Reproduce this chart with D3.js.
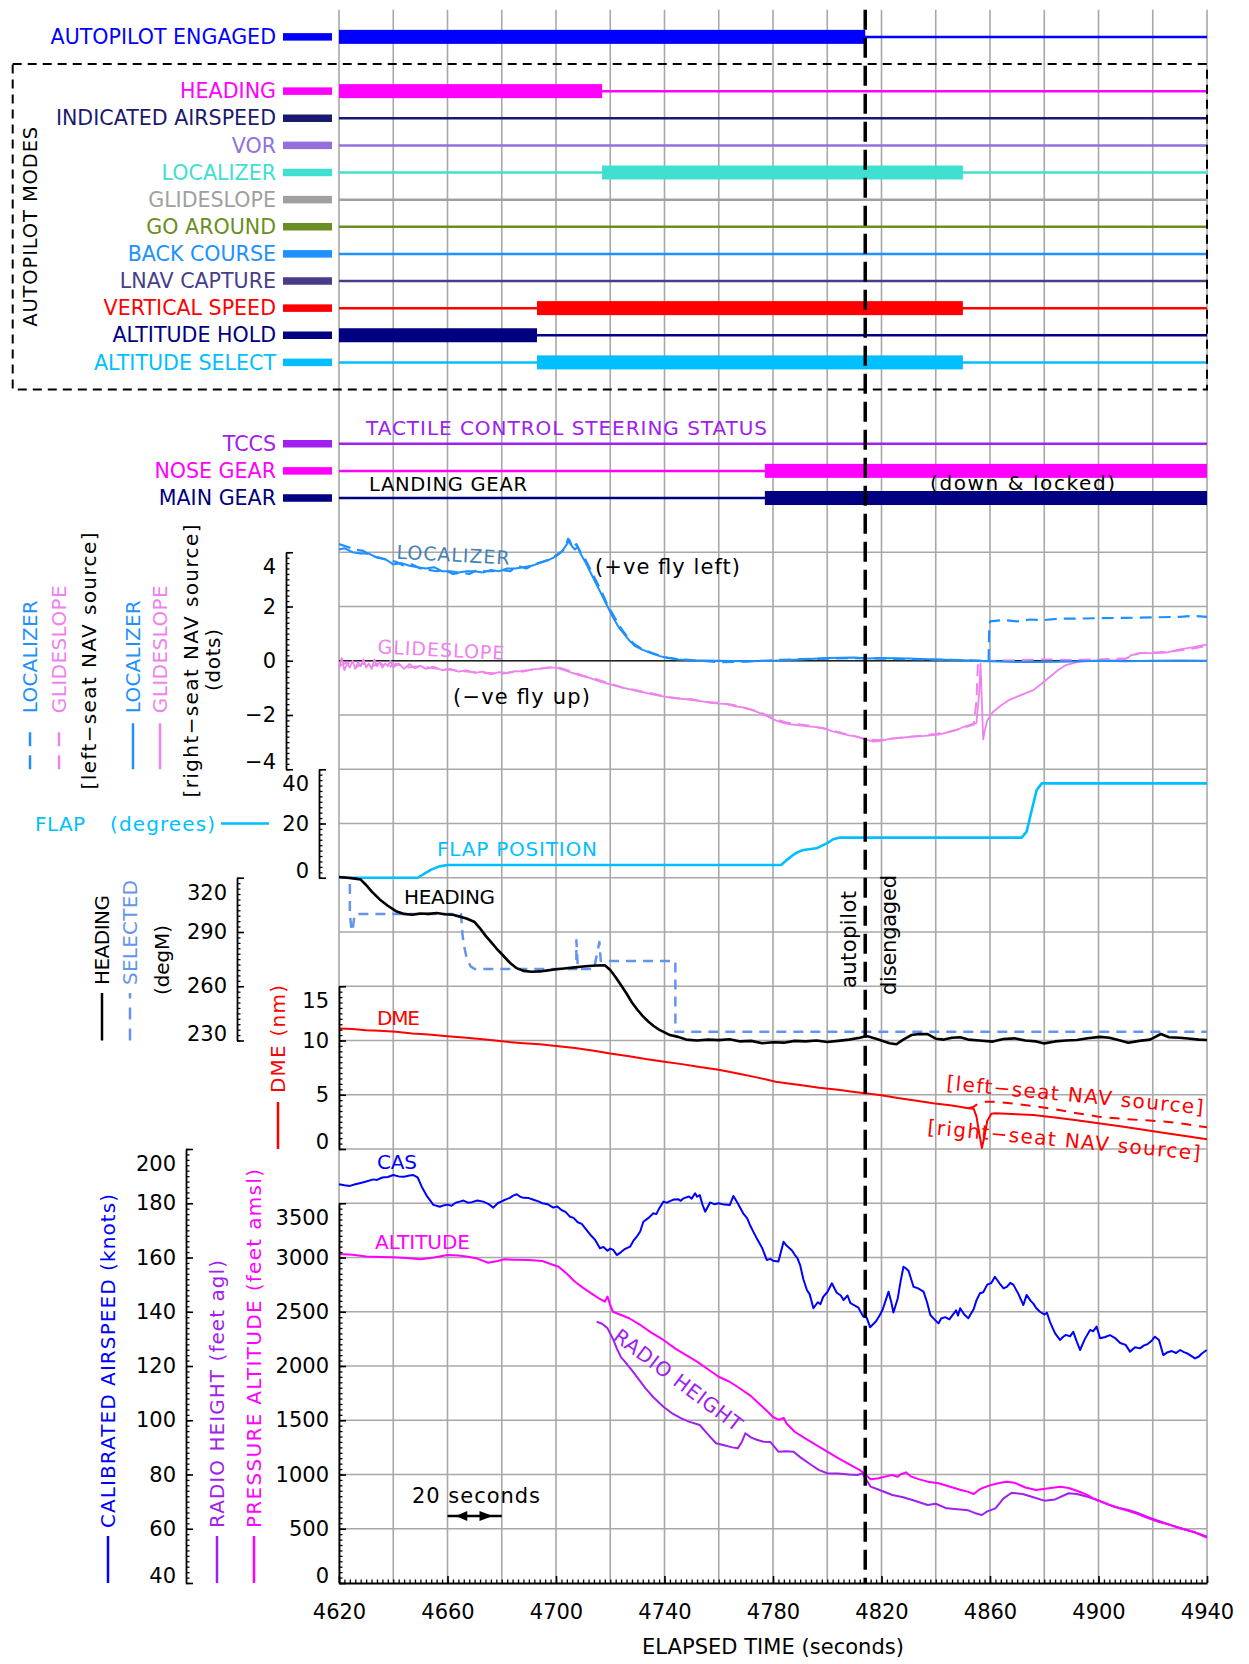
<!DOCTYPE html>
<html>
<head>
<meta charset="utf-8">
<script src="https://cdn.jsdelivr.net/npm/d3@7"></script>
<style>
  body { margin: 0; background: #fff; }
  svg { display: block; }
  text { font-family: "DejaVu Sans", sans-serif; }
</style>
</head>
<body>
<svg id="chart" width="1249" height="1664"></svg>
<script>
// ---- data (time in seconds) ----
const timeTicks = [4620, 4660, 4700, 4740, 4780, 4820, 4860, 4900, 4940];
const apDisengageTime = 4814;

const modeNames = ["HEADING", "INDICATED AIRSPEED", "VOR", "LOCALIZER", "GLIDESLOPE",
  "GO AROUND", "BACK COURSE", "LNAV CAPTURE", "VERTICAL SPEED", "ALTITUDE HOLD", "ALTITUDE SELECT"];
const apEngagedOn = [[4620, 4814]];
const headingModeOn = [[4620, 4717]];
const localizerModeOn = [[4717, 4850]];
const verticalSpeedOn = [[4693, 4850]];
const altitudeHoldOn = [[4620, 4693]];
const altitudeSelectOn = [[4693, 4850]];
const noseGearDown = [[4777, 4940]];
const mainGearDown = [[4777, 4940]];

// localizer / glideslope deviation (dots)
const locRight = [[4620,4.1],[4622,4.15],[4625,4.0],[4628,3.95],[4631,3.95],[4634,3.8],[4637,3.75],[4640,3.55],[4643,3.6],[4646,3.5],[4649,3.45],[4652,3.4],[4655,3.45],[4658,3.3],[4661,3.3],[4664,3.25],[4667,3.3],[4670,3.3],[4673,3.25],[4676,3.35],[4679,3.3],[4682,3.4],[4685,3.4],[4688,3.45],[4691,3.5],[4694,3.6],[4697,3.7],[4700,3.85],[4702,4.0],[4704,4.3],[4705,4.45],[4706,4.2],[4707,4.1],[4708,4.2],[4709,3.95],[4711,3.6],[4713,3.2],[4715,2.8],[4717,2.4],[4719,2.0],[4721,1.6],[4723,1.25],[4725,1.0],[4727,0.75],[4729,0.55],[4732,0.4],[4735,0.28],[4738,0.18],[4741,0.1],[4745,0.05],[4750,0.02],[4760,0.0],[4770,-0.02],[4780,0.0],[4790,0.05],[4800,0.1],[4810,0.12],[4815,0.08],[4820,0.1],[4830,0.08],[4840,0.05],[4850,0.02],[4856,0.0],[4860,-0.02],[4870,-0.05],[4880,-0.05],[4890,-0.03],[4900,0.0],[4910,-0.02],[4920,0.0],[4930,0.01],[4940,0.0]];
const locLeft = [[4620,4.3],[4623,4.2],[4626,4.1],[4629,4.05],[4632,3.85],[4635,3.8],[4638,3.7],[4641,3.65],[4644,3.5],[4647,3.55],[4650,3.4],[4653,3.35],[4656,3.3],[4659,3.35],[4662,3.2],[4665,3.25],[4668,3.2],[4671,3.35],[4674,3.3],[4677,3.3],[4680,3.35],[4683,3.3],[4686,3.5],[4689,3.4],[4692,3.55],[4695,3.65],[4698,3.75],[4701,3.95],[4703,4.1],[4704.5,4.5],[4706,4.15],[4707.5,4.3],[4709,4.0],[4711,3.7],[4713,3.3],[4715,2.9],[4717,2.5],[4719,2.05],[4721,1.7],[4723,1.35],[4725,1.05],[4727,0.8],[4729,0.6],[4732,0.42],[4735,0.3],[4738,0.2],[4741,0.12],[4745,0.06],[4750,0.02],[4760,-0.05],[4770,-0.03],[4780,0.02],[4790,0.06],[4800,0.08],[4810,0.1],[4820,0.08],[4830,0.06],[4840,0.04],[4850,0.02],[4857,0.0],[4859.5,0.0],[4859.7,1.2],[4860,1.45],[4865,1.5],[4870,1.45],[4875,1.52],[4880,1.5],[4885,1.55],[4890,1.55],[4900,1.57],[4910,1.58],[4920,1.6],[4930,1.62],[4935,1.65],[4940,1.62]];
const gsRight = [[4620,-0.3],[4621,0.1],[4622,-0.35],[4623,-0.1],[4624,-0.25],[4625,0.0],[4626,-0.3],[4627,-0.05],[4628,-0.2],[4629,0.05],[4630,-0.25],[4631,-0.1],[4632,-0.3],[4633,0.05],[4634,-0.2],[4635,-0.05],[4636,-0.25],[4637,-0.1],[4638,-0.2],[4639,0.0],[4640,-0.25],[4642,-0.1],[4644,-0.3],[4646,-0.12],[4648,-0.28],[4650,-0.18],[4652,-0.3],[4655,-0.22],[4658,-0.35],[4661,-0.3],[4664,-0.4],[4667,-0.35],[4670,-0.45],[4673,-0.4],[4676,-0.5],[4679,-0.42],[4682,-0.45],[4685,-0.38],[4688,-0.4],[4691,-0.32],[4694,-0.3],[4697,-0.25],[4700,-0.25],[4703,-0.35],[4706,-0.45],[4709,-0.55],[4712,-0.62],[4715,-0.72],[4718,-0.82],[4721,-0.9],[4724,-0.98],[4727,-1.05],[4730,-1.12],[4733,-1.18],[4736,-1.25],[4739,-1.3],[4742,-1.36],[4745,-1.4],[4748,-1.42],[4751,-1.46],[4754,-1.5],[4757,-1.55],[4760,-1.58],[4763,-1.6],[4766,-1.68],[4769,-1.72],[4772,-1.8],[4775,-1.92],[4778,-2.05],[4781,-2.2],[4784,-2.3],[4787,-2.35],[4790,-2.38],[4793,-2.42],[4796,-2.45],[4799,-2.5],[4802,-2.6],[4805,-2.68],[4808,-2.75],[4811,-2.8],[4814,-2.9],[4817,-2.98],[4820,-2.95],[4823,-2.88],[4826,-2.85],[4829,-2.82],[4832,-2.8],[4835,-2.78],[4838,-2.75],[4841,-2.72],[4844,-2.65],[4847,-2.58],[4850,-2.45],[4853,-2.35],[4855,-2.3],[4856,-1.2],[4856.5,-0.1],[4857,-1.5],[4857.5,-2.9],[4858,-2.6],[4859,-2.2],[4861,-1.9],[4864,-1.65],[4867,-1.45],[4870,-1.32],[4873,-1.2],[4876,-1.08],[4879,-0.85],[4882,-0.6],[4885,-0.35],[4888,-0.16],[4891,-0.08],[4894,-0.02],[4898,0.0],[4902,0.0],[4906,0.02],[4910,0.05],[4912,0.2],[4915,0.28],[4920,0.28],[4925,0.3],[4930,0.42],[4935,0.5],[4940,0.6]];
const gsLeft = [[4620,-0.2],[4623,-0.05],[4626,-0.25],[4629,-0.1],[4632,-0.22],[4635,-0.08],[4638,-0.25],[4641,-0.12],[4645,-0.25],[4650,-0.2],[4655,-0.28],[4660,-0.32],[4665,-0.38],[4670,-0.42],[4675,-0.45],[4680,-0.48],[4685,-0.4],[4690,-0.35],[4695,-0.28],[4700,-0.22],[4705,-0.38],[4710,-0.55],[4715,-0.68],[4720,-0.85],[4725,-1.0],[4730,-1.1],[4735,-1.2],[4740,-1.32],[4745,-1.38],[4750,-1.42],[4755,-1.52],[4760,-1.55],[4765,-1.62],[4770,-1.75],[4775,-1.88],[4780,-2.12],[4785,-2.28],[4790,-2.35],[4795,-2.42],[4800,-2.52],[4805,-2.65],[4810,-2.78],[4815,-2.92],[4820,-2.92],[4825,-2.86],[4830,-2.8],[4835,-2.76],[4840,-2.7],[4845,-2.62],[4850,-2.48],[4854,-2.35],[4855,-1.5],[4855.5,-0.2],[4856,-0.05],[4860,0.0],[4870,0.02],[4880,0.05],[4890,0.03],[4900,0.05],[4910,0.08],[4915,0.28],[4925,0.32],[4935,0.45],[4940,0.55]];

// flap position (degrees)
const flapPos = [[4620,0],[4649,0],[4651.5,1.5],[4654,3],[4657,4.2],[4660,4.7],[4783,4.7],[4785,6.5],[4787.4,8.4],[4789.5,9.6],[4791.2,10.2],[4796,10.85],[4799.8,12.7],[4802.2,14.2],[4804.7,14.8],[4871.7,14.8],[4873.5,17],[4875.4,25],[4877.2,32.3],[4879.1,34.8],[4940,34.8]];

// heading and selected heading (degM)
const heading = [[4620,320.4],[4623,320],[4626,319.5],[4628,319],[4630,316],[4632,312.5],[4635,308],[4638,304.5],[4641,301.5],[4644,300],[4647,299.5],[4650,300.2],[4653,300],[4656,300.5],[4659,299.8],[4662,299.5],[4664.5,298.5],[4667,297.5],[4670,295.5],[4672,292],[4674,288],[4676,284.5],[4678,281],[4680.5,277],[4683,273],[4685.5,270],[4688,268.5],[4691,268],[4694,268.2],[4697,268.8],[4700,269.4],[4703,269.8],[4706,270.3],[4709,270.8],[4712,271.2],[4715,271.5],[4718,271.6],[4720,269],[4722,265],[4724,260.5],[4726,256],[4728,251],[4730,247],[4732,243.5],[4734,240.5],[4736,238],[4738,236],[4740,234.5],[4742,233],[4745,232],[4748,230.5],[4752,230],[4756,230.5],[4760,230.2],[4764,230.7],[4768,229.5],[4772,229.8],[4776,228.5],[4780,229],[4784,228.8],[4788,229.8],[4792,229.5],[4796,230],[4800,229.2],[4804,229.8],[4808,230.5],[4812,231.5],[4814.5,232.5],[4818,231],[4821,229.5],[4823,228.5],[4825.5,227.9],[4828,230.5],[4831,233],[4834,233.6],[4837,233.5],[4840,231],[4843,230.5],[4846,231.5],[4849,231.8],[4852,230.5],[4856,230],[4861,229.4],[4865,230.8],[4869,231.2],[4873,230],[4877,229.5],[4880,228.4],[4884,229.5],[4888,230],[4892,230.3],[4896,231.2],[4900.6,232],[4904,231.5],[4908,230],[4911,228.8],[4915,229.8],[4919,230.5],[4923,233.6],[4926,231.8],[4930,231.5],[4934,231],[4937,230.5],[4940,230.3]];
const selHeading = [[4620,320],[4624,320],[4624,300],[4624.5,293],[4625,290.5],[4625.5,297],[4626,300],[4665,300],[4665.5,289],[4666,283],[4667,276],[4668.5,271],[4670,269.5],[4707.5,269.5],[4707.5,285.5],[4708,272],[4708.5,269.5],[4714,269.5],[4715,277],[4716,284.5],[4716.5,274],[4744,274],[4744,234.9],[4940,234.9]];

// DME (nm)
const dmeRight = [[4620,11.1],[4625,11.05],[4630,10.95],[4635,10.9],[4641,10.8],[4647,10.65],[4653,10.55],[4660,10.4],[4667,10.25],[4674,10.1],[4681,9.9],[4688,9.75],[4694,9.65],[4700,9.5],[4707,9.3],[4714,9.05],[4720,8.8],[4727,8.55],[4733,8.3],[4740,8.05],[4747,7.8],[4753,7.55],[4760,7.3],[4767,6.95],[4774,6.6],[4781,6.2],[4787,6.0],[4790,5.9],[4797,5.65],[4804,5.45],[4810,5.25],[4814,5.13],[4820,4.95],[4826,4.7],[4833,4.45],[4839,4.21],[4846,4.0],[4852,3.75],[4854,3.7],[4855,3.0],[4856,1.5],[4857,0.1],[4858,1.2],[4859,2.6],[4860.5,3.25],[4862,3.3],[4868,3.22],[4876,3.13],[4884,2.9],[4892,2.65],[4900,2.37],[4908,2.1],[4916,1.8],[4925,1.45],[4932,1.2],[4940,0.89]];
const dmeLeft = [[4852,3.75],[4854,3.9],[4856,4.25],[4858,4.36],[4862,4.35],[4870,4.15],[4876,3.96],[4884,3.65],[4892,3.3],[4900,2.98],[4910,2.75],[4920,2.6],[4925,2.52],[4932,2.3],[4936,2.12],[4940,2.0]];

// calibrated airspeed (knots)
const cas = [[4620,187],[4622,186.6],[4624,186.4],[4626,187],[4628,187.5],[4630,188],[4632.7,188.8],[4634,188.6],[4636,189.5],[4638,189.7],[4640,190.4],[4642,189.9],[4644,189.8],[4646,190.2],[4647.4,190.4],[4649,189.5],[4650.5,186.1],[4652.5,182.5],[4654.8,179.4],[4657.2,178.7],[4658.5,179.2],[4660,179.5],[4661.5,179.1],[4663,180.2],[4664.5,180.6],[4665.9,181],[4667.5,180.2],[4669,180.4],[4671,181],[4673.2,180.6],[4675,179.8],[4676.9,178.4],[4678.5,180],[4680.6,181],[4682,181.6],[4683,182],[4684.2,182.8],[4685.5,183.3],[4686.8,182.4],[4688,182],[4690,181.9],[4691.7,181.3],[4693.5,180.7],[4695,180],[4697,179.6],[4699,178.4],[4700.5,178.8],[4702,177.5],[4703.5,176.8],[4705.2,175],[4706.5,174.6],[4708,173],[4709.5,172.4],[4711.3,170.1],[4713,168],[4714.5,166.4],[4716.2,163.4],[4717.5,163.9],[4719,162.5],[4720,163.3],[4721.1,162.8],[4722.4,160.9],[4724,162],[4725.5,163.2],[4727.3,164],[4728.5,166.1],[4730,168],[4731,169.5],[4732.2,173.2],[4734,174.5],[4735.9,176.3],[4737,176],[4738,178],[4739.6,180.6],[4741,180.2],[4742,180.8],[4743.5,181.4],[4745,181.5],[4746,180.9],[4747,181.8],[4749,182.5],[4750,181.7],[4751.3,183.7],[4752,182.4],[4753,183],[4754,179.5],[4755,176.9],[4756.8,180.3],[4758.5,179.6],[4760,180],[4762,179.5],[4764.1,179.4],[4765.4,182.7],[4767,180],[4769,176.3],[4770.5,174.4],[4771.5,172],[4773,169],[4774,167.1],[4776,163.5],[4777.7,159.1],[4779,159.5],[4780,158.8],[4782,158.5],[4783.9,165.8],[4785,164.4],[4786,163.5],[4787,162.6],[4788,161],[4789,159.8],[4790,157.2],[4791.2,152],[4792.5,148],[4793.5,146.5],[4794.9,141.3],[4796.5,143.5],[4797.5,142.8],[4798.5,145.5],[4800,147.2],[4801.7,150.5],[4803.5,147],[4805,146],[4806,144.3],[4807.5,146],[4808.5,143.3],[4809.7,142.5],[4811.5,141.5],[4813.3,138.2],[4814.5,137.9],[4815.8,134.3],[4817,135.5],[4818,136.5],[4819.5,139],[4820.5,141],[4822.6,147.4],[4823.5,144],[4824.4,139.7],[4826,145],[4827,151],[4828.1,156.6],[4829,156],[4830,155],[4831.8,149.2],[4833.5,148.6],[4835.5,147.4],[4836.8,143.5],[4838,138.8],[4839.5,137.2],[4841,135.7],[4842,137.5],[4843.5,138],[4845,137.2],[4846,138.5],[4847.5,140.5],[4848.2,138.6],[4849,141.3],[4850.5,139],[4852,137.6],[4854,141],[4855,144.2],[4856.3,146.8],[4857.5,147.2],[4859,150],[4860.5,150.6],[4861.8,152.9],[4863.5,150.5],[4865,148.6],[4866.2,149.2],[4867.5,150.6],[4868.6,150],[4870.5,146.5],[4872.3,142.5],[4873.5,146.2],[4875,144],[4876,143],[4877,141.4],[4878.4,140],[4880,139],[4881,139.6],[4882.1,136.3],[4884,132],[4885.8,129.6],[4887,130.8],[4888,131.5],[4889.5,130.9],[4890.7,132.6],[4892,129],[4893.2,125.9],[4895,130],[4896.9,133.3],[4898,132.8],[4899.3,134.5],[4900.6,130.2],[4902.5,130.7],[4904.2,131.4],[4906,130.4],[4908,128.5],[4910,127.8],[4911.6,125.3],[4913.5,126.9],[4915.3,126.5],[4916.8,127.6],[4918,128],[4919.5,129.2],[4920.8,130.8],[4922.3,129.6],[4923.9,124],[4925.5,125.1],[4927,125.5],[4928.6,124.8],[4930.1,125.9],[4931.5,125.1],[4933,124.5],[4935.6,122.8],[4937,123.5],[4938,124.5],[4939.9,125.9]];

// pressure altitude (feet amsl) and radio height (feet agl)
const altitude = [[4620,3032],[4625,3025],[4630,3010],[4635,3005],[4640,3002],[4645,2995],[4650,2983],[4655,3000],[4660,3023],[4664,3018],[4667,3009],[4671,2990],[4675,2952],[4678,2965],[4681,2983],[4685,2980],[4690,2977],[4695,2968],[4698,2940],[4701,2915],[4704,2850],[4707,2777],[4710,2720],[4713,2670],[4716,2620],[4718,2593],[4719,2640],[4720,2560],[4721,2500],[4724,2470],[4727,2440],[4731,2380],[4735,2310],[4739.6,2240],[4744,2160],[4748,2100],[4752,2040],[4756,1970],[4760,1901],[4764,1855],[4768,1790],[4772,1720],[4775,1650],[4778,1580],[4780,1530],[4782,1505],[4784,1520],[4785,1470],[4788,1394],[4792,1330],[4796,1270],[4800,1210],[4804,1150],[4808,1095],[4812,1041],[4814,1000],[4816,956],[4819,965],[4822,985],[4824,995],[4826,980],[4827,1000],[4829,1020],[4831,980],[4834,955],[4837,934],[4841,920],[4845,890],[4849,860],[4852,840],[4854,820],[4856,860],[4857,873],[4860,900],[4863,920],[4866,934],[4869,925],[4873,880],[4877,857],[4881,870],[4886,888],[4889,875],[4893,841],[4896,810],[4898,780],[4902,740],[4906,700],[4910,673],[4914,640],[4918,600],[4922,565],[4926,540],[4930,505],[4935,473],[4938,440],[4940,418]];
const radioHeight = [[4715,2408],[4717,2390],[4719,2347],[4721,2250],[4722.4,2163],[4724,2080],[4725.4,2040],[4728,1960],[4731,1860],[4733,1794],[4736,1710],[4739.6,1625],[4743,1560],[4746,1520],[4749,1487],[4753,1456],[4756,1370],[4759,1288],[4762,1270],[4765,1250],[4767,1241],[4768.5,1300],[4769.8,1380],[4772,1340],[4774,1320],[4776.5,1302],[4779,1300],[4782,1210],[4785,1215],[4787.6,1210],[4790,1160],[4794,1090],[4797,1040],[4800,1011],[4804,1010],[4808,1000],[4811,995],[4813,1010],[4816,888],[4820,850],[4824,811],[4828,790],[4832,760],[4837,719],[4840,730],[4844,688],[4848,680],[4852,670],[4855,640],[4857,627],[4859,660],[4862,688],[4865,780],[4868,832],[4872,820],[4876,790],[4880,759],[4884,770],[4889,827],[4892,820],[4896,795],[4900,760],[4904,720],[4908,690],[4911,673],[4915,640],[4919,600],[4923,565],[4927,530],[4931,500],[4935,470],[4938,445],[4940,427]];

// ---- layout ----
const svg = d3.select("#chart");
svg.append("rect").attr("width", 1249).attr("height", 1664).attr("fill", "#fff");

const x = d3.scaleLinear().domain([4620, 4940]).range([339, 1207]);
// the whole plot sits on one square grid, rows counted up from the time axis
const gridY = d3.scaleLinear().domain([0, 29]).range([1583, 9.75]);

const yLoc = d3.scaleLinear().domain([-4, 4]).range([gridY(15), gridY(19)]);
const yFlap = d3.scaleLinear().domain([0, 40]).range([gridY(13), gridY(15)]);
const yHdg = d3.scaleLinear().domain([230, 320]).range([gridY(10), gridY(13)]);
const yDme = d3.scaleLinear().domain([0, 15]).range([gridY(8), gridY(11)]);
const yCas = d3.scaleLinear().domain([40, 200]).range([gridY(0), gridY(8)]);
const yAlt = d3.scaleLinear().domain([0, 3500]).range([gridY(0), gridY(7)]);

const GRID = "#a8a8a8";

// grid
svg.append("g").selectAll("line").data(d3.range(4620, 4941, 20)).join("line")
  .attr("x1", d => x(d)).attr("x2", d => x(d))
  .attr("y1", gridY(29)).attr("y2", gridY(0))
  .attr("stroke", GRID).attr("stroke-width", 1.6);
svg.append("g").selectAll("line").data(d3.range(1, 20)).join("line")
  .attr("x1", x(4620)).attr("x2", x(4940))
  .attr("y1", d => gridY(d)).attr("y2", d => gridY(d))
  .attr("stroke", GRID).attr("stroke-width", 1.6);
svg.append("line").attr("x1", x(4620)).attr("x2", x(4940))
  .attr("y1", yLoc(0)).attr("y2", yLoc(0)).attr("stroke", "#222").attr("stroke-width", 1.5);

// ---- text helpers ----
function label(str, px, py, o = {}) {
  const t = svg.append("text").attr("x", px).attr("y", py).attr("dy", "0.35em")
    .attr("font-size", o.size || 20).attr("fill", o.color || "#000")
    .attr("text-anchor", o.anchor || "start").text(str);
  if (o.len) t.attr("textLength", o.len);
  if (o.rotate) t.attr("transform", `rotate(${o.rotate},${px},${py})`);
  return t;
}
// vertical legend: line (from the bottom) then text going upward
function vLegend(str, xc, yBottom, o) {
  const g = svg.append("g").attr("transform", `translate(${xc},${yBottom}) rotate(-90)`);
  g.append("line").attr("x1", 0).attr("x2", o.lineLen).attr("y1", 0).attr("y2", 0)
    .attr("stroke", o.color).attr("stroke-width", 2.5).attr("stroke-dasharray", o.dash || null);
  const t = g.append("text").attr("x", o.textStart).attr("y", 0).attr("dy", "0.35em")
    .attr("font-size", o.size || 20).attr("fill", o.color).text(str);
  if (o.len) t.attr("textLength", o.len);
}
function vText(str, xc, yc, o = {}) {
  const t = svg.append("text").attr("transform", `translate(${xc},${yc}) rotate(-90)`)
    .attr("dy", "0.35em").attr("text-anchor", o.anchor || "middle")
    .attr("font-size", o.size || 20).attr("fill", o.color || "#000").text(str);
  if (o.len) t.attr("textLength", o.len);
}

// ---- status rows ----
const rows = [];
rows.push({ name: "AUTOPILOT ENGAGED", k: 28.5, color: "#0000ff", on: apEngagedOn });
const modeColors = ["#ff00ff", "#191970", "#9370db", "#40e0d0", "#a0a0a0", "#6b8e23",
  "#1e90ff", "#483d8b", "#ff0000", "#000080", "#00bfff"];
const modeOn = { "HEADING": headingModeOn, "LOCALIZER": localizerModeOn,
  "VERTICAL SPEED": verticalSpeedOn, "ALTITUDE HOLD": altitudeHoldOn, "ALTITUDE SELECT": altitudeSelectOn };
modeNames.forEach((n, i) => rows.push({ name: n, k: 27.5 - 0.5 * i, color: modeColors[i], on: modeOn[n] || [] }));
rows.push({ name: "TCCS", k: 21, color: "#a020f0", on: [] });
rows.push({ name: "NOSE GEAR", k: 20.5, color: "#ff00ff", on: noseGearDown });
rows.push({ name: "MAIN GEAR", k: 20, color: "#000080", on: mainGearDown });

rows.forEach(r => {
  const yy = gridY(r.k);
  label(r.name, 276, yy, { color: r.color, anchor: "end", size: 20.6 });
  svg.append("rect").attr("x", 283).attr("y", yy - 3.75).attr("width", 49).attr("height", 7.5).attr("fill", r.color);
  svg.append("line").attr("x1", x(4620)).attr("x2", x(4940)).attr("y1", yy).attr("y2", yy)
    .attr("stroke", r.color).attr("stroke-width", 2.5);
  r.on.forEach(([a, b]) => {
    svg.append("rect").attr("x", x(a)).attr("y", yy - 7).attr("width", x(b) - x(a)).attr("height", 14).attr("fill", r.color);
  });
});

vText("AUTOPILOT MODES", 30, (gridY(28) + gridY(22)) / 2, { size: 19.5, len: 200 });
label("TACTILE CONTROL STEERING STATUS", 366, 428, { color: "#a020f0", size: 20, len: 401 });
label("LANDING GEAR", 369, 484, { size: 19.5, len: 158 });
label("(down & locked)", 930, 483, { size: 20, len: 185 });

// ---- series ----
function series(data, yScale, color, width, dash) {
  svg.append("path").datum(data)
    .attr("d", d3.line().x(d => x(d[0])).y(d => yScale(d[1])))
    .attr("fill", "none").attr("stroke", color).attr("stroke-width", width)
    .attr("stroke-linejoin", "round").attr("stroke-dasharray", dash || null);
}
series(gsLeft, yLoc, "#ee82ee", 2, "12,7");
series(gsRight, yLoc, "#ee82ee", 1.8);
series(locLeft, yLoc, "#1e90ff", 2.2, "12,7");
series(locRight, yLoc, "#1e90ff", 2);
series(flapPos, yFlap, "#00bfff", 2.6);
series(selHeading, yHdg, "#6495ed", 2.5, "10,7");
series(heading, yHdg, "#000", 2.6);
series(dmeLeft, yDme, "#ff0000", 2, "10,8");
series(dmeRight, yDme, "#ff0000", 2);
series(cas, yCas, "#0000ff", 2);
series(radioHeight, yAlt, "#a020f0", 2);
series(altitude, yAlt, "#ff00ff", 2);

// ---- in-plot labels ----
label("LOCALIZER", 453, 555, { color: "#4682b4", anchor: "middle", size: 19, len: 113, rotate: 3 });
label("GLIDESLOPE", 441, 650, { color: "#ee82ee", anchor: "middle", size: 19, len: 127, rotate: 3 });
label("(+ve fly left)", 595, 567, { size: 21, len: 145 });
label("(\u2212ve fly up)", 453, 697, { size: 21, len: 137 });
label("FLAP POSITION", 437, 849, { color: "#00bfff", size: 20, len: 160 });
label("HEADING", 404, 897, { size: 20, len: 91 });
label("DME", 377, 1018, { color: "#ff0000", size: 20, len: 43 });
label("CAS", 377, 1162, { color: "#0000ff", size: 20, len: 40 });
label("ALTITUDE", 375, 1242, { color: "#ff00ff", size: 20, len: 95 });
label("RADIO HEIGHT", 678, 1380, { color: "#a020f0", anchor: "middle", size: 20, len: 155, rotate: 37 });
label("[left\u2212seat NAV source]", 1075, 1095, { color: "#ff0000", anchor: "middle", size: 20, len: 258, rotate: 5.5 });
label("[right\u2212seat NAV source]", 1064, 1140, { color: "#ff0000", anchor: "middle", size: 20, len: 274, rotate: 5.5 });

// 20 second scale arrow
const arrY = 1516;
label("20 seconds", 412, 1496, { size: 21, len: 128 });
svg.append("line").attr("x1", x(4660)).attr("x2", x(4680)).attr("y1", arrY).attr("y2", arrY)
  .attr("stroke", "#000").attr("stroke-width", 2.5);
svg.append("path").attr("fill", "#000")
  .attr("d", `M${x(4663)},${arrY} L${x(4667.3)},${arrY - 5} L${x(4667.3)},${arrY + 5} Z`);
svg.append("path").attr("fill", "#000")
  .attr("d", `M${x(4676.7)},${arrY} L${x(4671.8)},${arrY - 5} L${x(4671.8)},${arrY + 5} Z`);

// ---- left-hand legends ----
vLegend("LOCALIZER", 30, yLoc(-4), { color: "#1e90ff", lineLen: 46, textStart: 56, dash: "14,9", len: 113 });
vLegend("GLIDESLOPE", 59, yLoc(-4), { color: "#ee82ee", lineLen: 46, textStart: 56, dash: "14,9", len: 128 });
vText("[left\u2212seat NAV source]", 89, 661, { size: 20, len: 257 });
vLegend("LOCALIZER", 133, yLoc(-4), { color: "#1e90ff", lineLen: 46, textStart: 56, len: 113 });
vLegend("GLIDESLOPE", 160, yLoc(-4), { color: "#ee82ee", lineLen: 46, textStart: 56, len: 128 });
vText("[right\u2212seat NAV source]", 191, 661, { size: 20, len: 273 });
vText("(dots)", 213, 660, { size: 20, len: 62 });

label("FLAP", 35, yFlap(20), { color: "#00bfff", size: 20, len: 50 });
label("(degrees)", 110, yFlap(20), { color: "#00bfff", size: 20, len: 105 });
svg.append("line").attr("x1", 221).attr("x2", 269).attr("y1", yFlap(20)).attr("y2", yFlap(20))
  .attr("stroke", "#00bfff").attr("stroke-width", 2.5);

vLegend("HEADING", 102, yHdg(230), { color: "#000", lineLen: 47.5, textStart: 55.5, len: 90 });
vLegend("SELECTED", 130, yHdg(230), { color: "#6495ed", lineLen: 47.5, textStart: 55.5, dash: "12,9", len: 105 });
vText("(degM)", 162, 960, { size: 20, len: 70 });

vLegend("DME (nm)", 278, yDme(0), { color: "#ff0000", lineLen: 47, textStart: 56, len: 108 });

vLegend("CALIBRATED AIRSPEED (knots)", 108, gridY(0), { color: "#0000ff", lineLen: 47, textStart: 55, len: 334 });
vLegend("RADIO HEIGHT (feet agl)", 217, gridY(0), { color: "#a020f0", lineLen: 47, textStart: 55, len: 268 });
vLegend("PRESSURE ALTITUDE (feet amsl)", 254, gridY(0), { color: "#ff00ff", lineLen: 47, textStart: 55, len: 359 });

// ---- axes ----
function yAxis(scale, xPos, majors, minorStep) {
  const [lo, hi] = scale.domain();
  const minors = d3.range(lo, hi + minorStep / 2, minorStep);
  const gm = svg.append("g").attr("transform", `translate(${xPos},0)`)
    .call(d3.axisLeft(scale).tickValues(minors).tickSize(-3.5).tickSizeOuter(0).tickFormat(""));
  gm.select(".domain").remove();
  gm.selectAll(".tick line").attr("stroke-width", 1.3);
  const g = svg.append("g").attr("transform", `translate(${xPos},0)`)
    .call(d3.axisLeft(scale).tickValues(majors).tickSize(-7).tickSizeOuter(0).tickPadding(10)
      .tickFormat(d3.format("d")));
  g.attr("font-size", 21).attr("font-family", "DejaVu Sans");
  g.select(".domain").attr("stroke-width", 1.8);
  g.selectAll(".tick line").attr("stroke-width", 1.6);
  // end labels are pulled inside the axis span
  g.selectAll(".tick text").filter(d => d === hi).attr("y", 15);
  g.selectAll(".tick text").filter(d => d === lo).attr("y", -7);
}
yAxis(yLoc, 286, [-4, -2, 0, 2, 4], 0.2);
yAxis(yFlap, 319, [0, 20, 40], 2);
yAxis(yHdg, 237, [230, 260, 290, 320], 3);
yAxis(yDme, 339, [0, 5, 10, 15], 0.5);
yAxis(yCas, 186, d3.range(40, 201, 20), 2);
yAxis(yAlt, 339, d3.range(0, 3501, 500), 50);

const gxm = svg.append("g").attr("transform", `translate(0,${gridY(0)})`)
  .call(d3.axisBottom(x).tickValues(d3.range(4620, 4941, 2)).tickSize(-3.5).tickSizeOuter(0).tickFormat(""));
gxm.select(".domain").remove();
gxm.selectAll(".tick line").attr("stroke-width", 1.3);
const gx = svg.append("g").attr("transform", `translate(0,${gridY(0)})`)
  .call(d3.axisBottom(x).tickValues(timeTicks).tickSize(-7).tickSizeOuter(0).tickPadding(21).tickFormat(d3.format("d")));
gx.attr("font-size", 21).attr("font-family", "DejaVu Sans");
gx.select(".domain").attr("stroke-width", 1.8);
gx.selectAll(".tick line").attr("stroke-width", 1.6);
label("ELAPSED TIME (seconds)", (x(4620) + x(4940)) / 2, 1647, { anchor: "middle", size: 21, len: 262 });

// ---- autopilot disengaged marker and modes box ----
svg.append("line").attr("x1", x(apDisengageTime)).attr("x2", x(apDisengageTime))
  .attr("y1", gridY(29)).attr("y2", gridY(0))
  .attr("stroke", "#000").attr("stroke-width", 3.5).attr("stroke-dasharray", "20,8");
vText("autopilot", 849, 988, { anchor: "start", size: 21, len: 97 });
vText("disengaged", 889, 995, { anchor: "start", size: 21, len: 120 });

svg.append("rect").attr("x", 12.7).attr("y", gridY(28))
  .attr("width", x(4940) - 12.7).attr("height", gridY(22) - gridY(28))
  .attr("fill", "none").attr("stroke", "#000").attr("stroke-width", 2).attr("stroke-dasharray", "9,6");
</script>
</body>
</html>
